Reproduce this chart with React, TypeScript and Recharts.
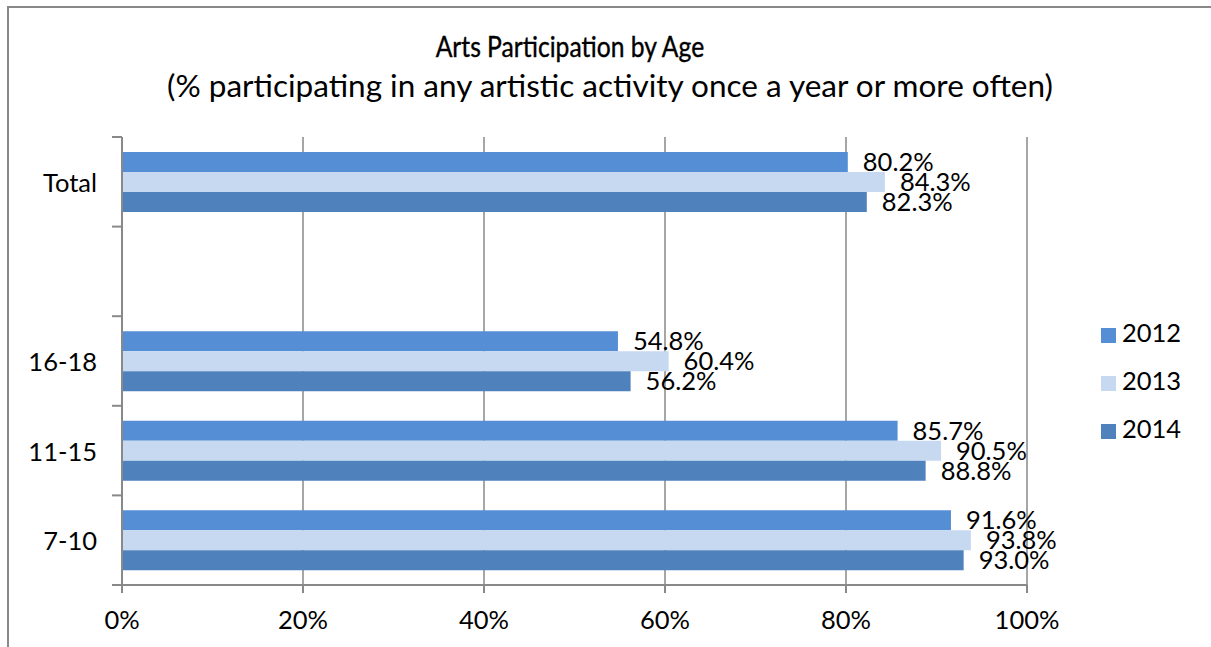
import React from 'react';
import { BarChart, Bar, XAxis, YAxis, CartesianGrid, Legend, LabelList } from 'recharts';

const categories = ['Total', '', '16-18', '11-15', '7-10'];
const values2012 = [80.2, null, 54.8, 85.7, 91.6];
const values2013 = [84.3, null, 60.4, 90.5, 93.8];
const values2014 = [82.3, null, 56.2, 88.8, 93.0];
const xTicks = [0, 20, 40, 60, 80, 100];

const series = [
    { key: 'y2012', name: '2012', color: '#558ED5', values: values2012 },
    { key: 'y2013', name: '2013', color: '#C6D9F1', values: values2013 },
    { key: 'y2014', name: '2014', color: '#4F81BD', values: values2014 },
];

const data = categories.map((cat, i) => {
    const row: Record<string, string | number | null> = { cat };
    series.forEach(s => { row[s.key] = s.values[i]; });
    return row;
});

const FONT = 'Lato, "Open Sans", sans-serif';
const AXIS = '#898989';
const TXT = 25.5;

// Excel style: tick marks sit on the band edges, not the band centres
function CategoryTick(props: any) {
    const { x, y, payload, index } = props;
    const half = payload.offset || 0;
    const last = index === categories.length - 1;
    return (
        <g>
            <line x1={x - 2} x2={x + 8} y1={y - half} y2={y - half} stroke={AXIS} strokeWidth={2} />
            {last && <line x1={x - 2} x2={x + 8} y1={y + half} y2={y + half} stroke={AXIS} strokeWidth={2} />}
            <text x={x - 17} y={y} textAnchor="end" dominantBaseline="central" fontSize={TXT} fill="#000">
                {payload.value}
            </text>
        </g>
    );
}

const fmt = (v: any) => (v == null ? '' : `${Number(v).toFixed(1)}%`);

export default function App() {
    return (
        <div style={{ position: 'relative', width: 1211, height: 647, fontFamily: FONT, background: '#fff', overflow: 'hidden' }}>
            <style>{'body{margin:0}'}</style>
            <div style={{ position: 'absolute', left: 7, top: 6, right: 0, bottom: 0, borderTop: `2px solid ${AXIS}`, borderLeft: `2px solid ${AXIS}` }} />
            <div style={{ position: 'absolute', left: 0, width: 1140, top: 27, textAlign: 'center', lineHeight: '38px' }}>
                <span style={{ display: 'inline-block', fontSize: 29, fontWeight: 400, transform: 'scaleX(0.85)', WebkitTextStroke: '0.4px #000' }}>
                    Arts Participation by Age
                </span>
            </div>
            <div style={{ position: 'absolute', left: 0, width: 1220, top: 66, textAlign: 'center', fontSize: 31.5, lineHeight: '38px' }}>
                (% participating in any artistic activity once a year or more often)
            </div>
            <div style={{ position: 'absolute', left: 0, top: 0 }}>
                <BarChart
                    width={1211}
                    height={647}
                    data={data}
                    layout="vertical"
                    margin={{ top: 137, right: 84, left: 2, bottom: 12 }}
                    barCategoryGap="16.7%"
                    barGap={0}
                    style={{ fontFamily: FONT }}
                >
                    <CartesianGrid horizontal={false} stroke={AXIS} strokeWidth={1.5} />
                    <XAxis
                        type="number"
                        domain={[0, 100]}
                        ticks={xTicks}
                        tickFormatter={(v: number) => `${v}%`}
                        height={50}
                        stroke={AXIS}
                        strokeWidth={2}
                        tickSize={8}
                        tick={{ fill: '#000', fontSize: TXT }}
                        tickMargin={18}
                    />
                    <YAxis
                        type="category"
                        dataKey="cat"
                        width={120}
                        stroke={AXIS}
                        strokeWidth={2}
                        tickLine={false}
                        tick={<CategoryTick />}
                    />
                    <Legend
                        layout="vertical"
                        align="right"
                        verticalAlign="middle"
                        iconType="square"
                        iconSize={15}
                        wrapperStyle={{ left: 1101, right: 'auto', top: 308, width: 100, fontSize: TXT, lineHeight: '48px' }}
                        formatter={(v: string) => <span style={{ color: '#000', marginLeft: 2 }}>{v}</span>}
                    />
                    {series.map(s => (
                        <Bar key={s.key} dataKey={s.key} name={s.name} fill={s.color} isAnimationActive={false}>
                            <LabelList dataKey={s.key} position="right" offset={15} formatter={fmt} fill="#000" fontSize={TXT} />
                        </Bar>
                    ))}
                </BarChart>
            </div>
        </div>
    );
}
